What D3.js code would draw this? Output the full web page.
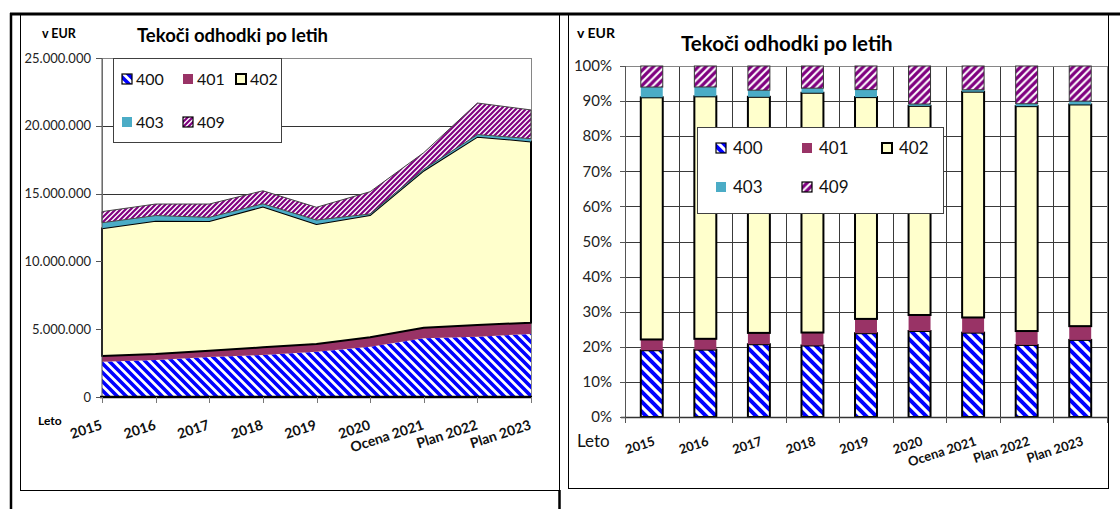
<!DOCTYPE html>
<html>
<head>
<meta charset="utf-8">
<script src="https://cdn.jsdelivr.net/npm/d3@7"></script>
<style>
  body { margin: 0; background: #fff; }
  svg { display: block; font-family: Lato, "Liberation Sans", sans-serif; }
</style>
</head>
<body>
<svg width="1120" height="509"></svg>
<script>
// categories and series (EUR)
const years = ["2015", "2016", "2017", "2018", "2019", "2020", "Ocena 2021", "Plan 2022", "Plan 2023"]
const keys = ["400", "401", "402", "403", "409"]
const s400 = [2600000, 2730000, 2950000, 3100000, 3340000, 3710000, 4330000, 4450000, 4650000]
const s401 = [420000, 440000, 460000, 560000, 570000, 690000, 780000, 860000, 830000]
const s402 = [9430000, 9830000, 9570000, 10390000, 8840000, 9020000, 11590000, 13890000, 13370000]
const s403 = [400000, 380000, 270000, 200000, 300000, 80000, 100000, 150000, 200000]
const s409 = [820000, 850000, 980000, 960000, 940000, 1640000, 1220000, 2330000, 2120000]
const leftTicks = [0, 5000000, 10000000, 15000000, 20000000, 25000000]
const rightTicks = [0, 0.1, 0.2, 0.3, 0.4, 0.5, 0.6, 0.7, 0.8, 0.9, 1]

const series = {"400": s400, "401": s401, "402": s402, "403": s403, "409": s409}
const table = years.map((y, i) => {
  let row = {year: y}
  keys.forEach(k => row[k] = series[k][i])
  return row
})

const svg = d3.select("svg")
const defs = svg.append("defs")

// hatch patterns
function hatch(id, color, size, sw, dir) {
  const p = defs.append("pattern").attr("id", id).attr("patternUnits", "userSpaceOnUse")
    .attr("width", size).attr("height", size)
  p.append("rect").attr("width", size).attr("height", size).attr("fill", "#fff")
  const s = size
  const d = dir === "down"
    ? `M${-s/2},${s/2} L${s/2},${s*1.5} M0,0 L${s},${s} M${s/2},${-s/2} L${s*1.5},${s/2}`
    : `M${-s/2},${s/2} L${s/2},${-s/2} M0,${s} L${s},0 M${s/2},${s*1.5} L${s*1.5},${s/2}`
  p.append("path").attr("d", d).attr("stroke", color).attr("stroke-width", sw)
}
hatch("h400", "#0000ff", 9, 3.6, "down")
hatch("h400r", "#0000ff", 10, 4, "down")
hatch("h409", "#800080", 5, 2.2, "up")
hatch("h409r", "#800080", 7.5, 3.2, "up")

const fillL = {"400": "url(#h400)", "401": "#993366", "402": "#ffffcc", "403": "#4bacc6", "409": "url(#h409)"}
const fillR = {"400": "url(#h400r)", "401": "#993366", "402": "#ffffcc", "403": "#4bacc6", "409": "url(#h409r)"}

// page frame
svg.append("line").attr("x1", 10).attr("x2", 1120).attr("y1", 14).attr("y2", 14).attr("stroke", "#000").attr("stroke-width", 3)
svg.append("line").attr("x1", 11).attr("x2", 11).attr("y1", 13).attr("y2", 509).attr("stroke", "#000").attr("stroke-width", 2.5)
svg.append("rect").attr("x", 20.5).attr("y", 14.5).attr("width", 539).attr("height", 476).attr("fill", "none").attr("stroke", "#000")
svg.append("line").attr("x1", 559.5).attr("x2", 559.5).attr("y1", 490).attr("y2", 509).attr("stroke", "#000").attr("stroke-width", 2.5)
svg.append("rect").attr("x", 568.5).attr("y", 14.5).attr("width", 540).attr("height", 474).attr("fill", "none").attr("stroke", "#000")

const nf = d3.formatLocale({decimal: ",", thousands: ".", grouping: [3], currency: ["", " €"]}).format(",.0f")

// ---------- left chart: stacked area ----------
const xL = d3.scalePoint().domain(years).range([102, 531])
const yL = d3.scaleLinear().domain([0, 25000000]).range([397, 58])
const stack = d3.stack().keys(keys)
const stackedL = stack(table)

const gL = svg.append("g")

gL.selectAll(".gridL").data(leftTicks.slice(1, -1)).enter().append("line")
  .attr("x1", xL.range()[0]).attr("x2", xL.range()[1])
  .attr("y1", d => Math.round(yL(d)) + 0.5).attr("y2", d => Math.round(yL(d)) + 0.5)
  .attr("stroke", "#333")

gL.append("rect").attr("x", 102.5).attr("y", yL(25000000) + 0.5)
  .attr("width", xL.range()[1] - xL.range()[0]).attr("height", yL(0) - yL(25000000))
  .attr("fill", "none").attr("stroke", "#868686")

const area = d3.area().x(d => xL(d.data.year)).y0(d => yL(d[0])).y1(d => yL(d[1]))

gL.selectAll(".layer").data(stackedL).enter().append("path")
  .attr("d", area)
  .attr("fill", d => fillL[d.key])
  .attr("stroke", d => d.key === "402" ? "#000" : d.key === "409" ? "#444" : "none")
  .attr("stroke-width", d => d.key === "402" ? 2 : 1)
  .attr("stroke-linejoin", "round")

// axes
gL.append("line").attr("x1", 102).attr("x2", 102).attr("y1", yL(25000000)).attr("y2", yL(0)).attr("stroke", "#555")
gL.append("line").attr("x1", 100).attr("x2", 532).attr("y1", 397).attr("y2", 397).attr("stroke", "#000").attr("stroke-width", 2.5)

gL.selectAll(".ytickL").data(leftTicks).enter().append("line")
  .attr("x1", 96).attr("x2", 102).attr("y1", d => Math.round(yL(d)) + 0.5).attr("y2", d => Math.round(yL(d)) + 0.5)
  .attr("stroke", "#555")
gL.selectAll(".ylabL").data(leftTicks).enter().append("text")
  .attr("x", 91).attr("y", d => yL(d)).attr("dy", "0.35em")
  .attr("text-anchor", "end").style("font-size", "13px").attr("fill", "#222")
  .text(d => nf(d))

gL.selectAll(".xtickL").data(years).enter().append("line")
  .attr("x1", d => Math.round(xL(d)) + 0.5).attr("x2", d => Math.round(xL(d)) + 0.5)
  .attr("y1", 397).attr("y2", 403).attr("stroke", "#777")
gL.selectAll(".xlabL").data(years).enter().append("text")
  .attr("transform", d => "translate(" + (xL(d) + 1) + ",429) rotate(-18)")
  .attr("text-anchor", "end").style("font-size", "14px").style("font-weight", "bold").attr("fill", "#111")
  .text(d => d)

gL.append("text").attr("x", 38).attr("y", 425).style("font-size", "12px").style("font-weight", "bold").text("Leto")
gL.append("text").attr("x", 42).attr("y", 38).style("font-size", "12.5px").style("font-weight", "bold").text("v EUR")
gL.append("text").attr("x", 137).attr("y", 42).style("font-size", "18.5px").style("font-weight", "bold").text("Tekoči odhodki po letih")

// legend
const legL = gL.append("g")
legL.append("rect").attr("x", 113.5).attr("y", 58.5).attr("width", 168).attr("height", 84)
  .attr("fill", "#fff").attr("stroke", "#404040")
const legPosL = {"400": [122, 79], "401": [183, 79], "402": [236, 79], "403": [122, 122], "409": [183, 122]}
keys.forEach(k => {
  const [lx, ly] = legPosL[k]
  const bordered = k === "400" || k === "402" || k === "409"
  legL.append("rect").attr("x", lx).attr("y", ly - 5).attr("width", 10).attr("height", 10)
    .attr("fill", fillL[k]).attr("stroke", bordered ? "#000" : "none").attr("stroke-width", k === "402" ? 2 : 1.2)
  legL.append("text").attr("x", lx + 14).attr("y", ly).attr("dy", "0.36em").style("font-size", "16px").attr("fill", "#111").text(k)
})

// ---------- right chart: 100% stacked columns ----------
const xR = d3.scaleBand().domain(years).range([625, 1107]).paddingInner(0.59).paddingOuter(0.295)
const yR = d3.scaleLinear().domain([0, 1]).range([417, 66])
const stackedR = d3.stack().keys(keys).offset(d3.stackOffsetExpand)(table)
const gR = svg.append("g")

const bounds = d3.range(years.length + 1).map(i => xR.range()[0] + i * xR.step())

gR.selectAll(".gridRh").data(rightTicks.slice(1, -1)).enter().append("line")
  .attr("x1", xR.range()[0]).attr("x2", xR.range()[1])
  .attr("y1", d => Math.round(yR(d)) + 0.5).attr("y2", d => Math.round(yR(d)) + 0.5)
  .attr("stroke", "#3a3a3a")
gR.selectAll(".gridRv").data(bounds.slice(1, -1)).enter().append("line")
  .attr("x1", d => Math.round(d) + 0.5).attr("x2", d => Math.round(d) + 0.5)
  .attr("y1", yR(1)).attr("y2", yR(0))
  .attr("stroke", "#3a3a3a")
gR.append("rect").attr("x", 625.5).attr("y", yR(1) + 0.5)
  .attr("width", xR.range()[1] - xR.range()[0]).attr("height", yR(0) - yR(1))
  .attr("fill", "none").attr("stroke", "#868686")

gR.selectAll(".layerR").data(stackedR).enter().append("g")
  .attr("fill", d => fillR[d.key])
  .attr("stroke", d => d.key === "400" || d.key === "402" ? "#000" : d.key === "409" ? "#333" : "none")
  .attr("stroke-width", d => d.key === "409" ? 1 : 2)
  .selectAll("rect").data(d => d).enter().append("rect")
    .attr("x", d => xR(d.data.year))
    .attr("y", d => yR(d[1]))
    .attr("width", xR.bandwidth())
    .attr("height", d => yR(d[0]) - yR(d[1]))

gR.append("line").attr("x1", 625.5).attr("x2", 625.5).attr("y1", yR(1)).attr("y2", yR(0)).attr("stroke", "#555")
gR.append("line").attr("x1", 621).attr("x2", 1107).attr("y1", 417.5).attr("y2", 417.5).attr("stroke", "#333").attr("stroke-width", 1.5)

gR.selectAll(".ytickR").data(rightTicks).enter().append("line")
  .attr("x1", 620).attr("x2", 625).attr("y1", d => Math.round(yR(d)) + 0.5).attr("y2", d => Math.round(yR(d)) + 0.5)
  .attr("stroke", "#555")
gR.selectAll(".ylabR").data(rightTicks).enter().append("text")
  .attr("x", 612).attr("y", d => yR(d)).attr("dy", "0.35em")
  .attr("text-anchor", "end").style("font-size", "15px").attr("fill", "#222")
  .text(d3.format(".0%"))

gR.selectAll(".xtickR").data(bounds).enter().append("line")
  .attr("x1", d => Math.round(d) + 0.5).attr("x2", d => Math.round(d) + 0.5)
  .attr("y1", 417).attr("y2", 423).attr("stroke", "#555")
gR.selectAll(".xlabR").data(years).enter().append("text")
  .attr("transform", d => "translate(" + (xR(d) + xR.bandwidth() / 2 + 4) + ",445) rotate(-18)")
  .attr("text-anchor", "end").style("font-size", "13px").style("font-weight", "bold").attr("fill", "#111")
  .text(d => d)

gR.append("text").attr("x", 577).attr("y", 447).style("font-size", "17px").attr("fill", "#111").text("Leto")
gR.append("text").attr("x", 577).attr("y", 38).style("font-size", "14px").style("font-weight", "bold").text("v EUR")
gR.append("text").attr("x", 681).attr("y", 51).style("font-size", "20.5px").style("font-weight", "bold").text("Tekoči odhodki po letih")

const legR = gR.append("g")
legR.append("rect").attr("x", 697.5).attr("y", 127.5).attr("width", 246).attr("height", 86)
  .attr("fill", "#fff").attr("stroke", "#404040")
const legPosR = {"400": [716, 148], "401": [802, 148], "402": [882, 148], "403": [716, 187], "409": [802, 187]}
keys.forEach(k => {
  const [lx, ly] = legPosR[k]
  const bordered = k === "400" || k === "402" || k === "409"
  legR.append("rect").attr("x", lx).attr("y", ly - 5).attr("width", 10).attr("height", 10)
    .attr("fill", fillR[k]).attr("stroke", bordered ? "#000" : "none").attr("stroke-width", k === "402" ? 2 : 1.2)
  legR.append("text").attr("x", lx + 17).attr("y", ly).attr("dy", "0.36em").style("font-size", "17px").attr("fill", "#111").text(k)
})
</script>
</body>
</html>
